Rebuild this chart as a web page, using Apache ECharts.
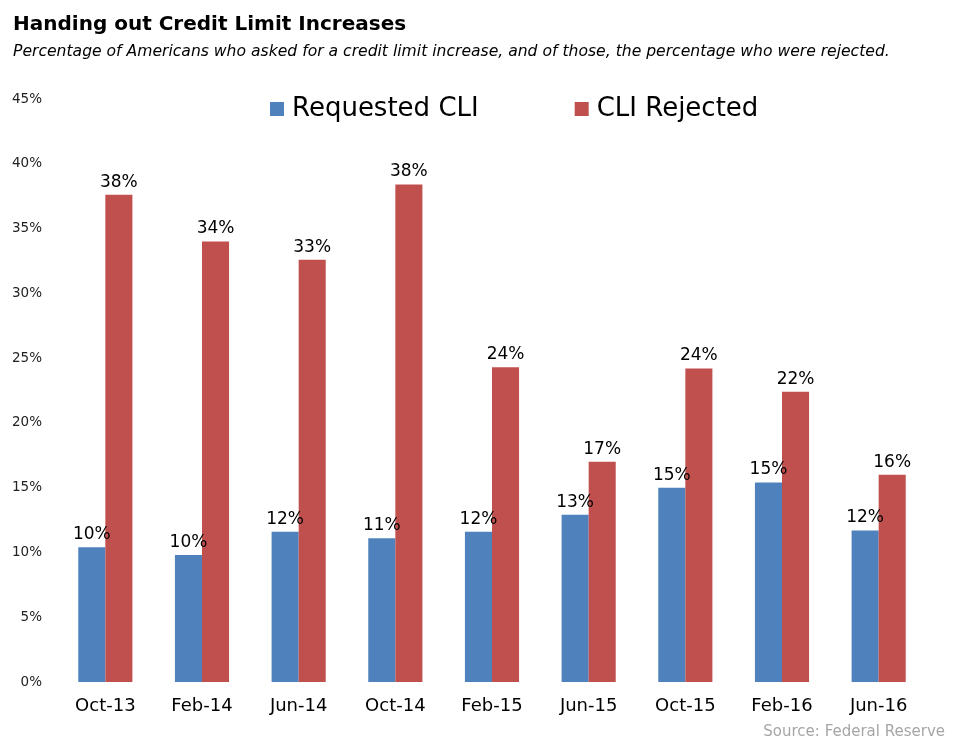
<!DOCTYPE html>
<html><head><meta charset="utf-8">
<script src="https://cdn.jsdelivr.net/npm/echarts@6/dist/echarts.min.js"></script>
<style>html,body{margin:0;padding:0;background:#fff}#c{width:967px;height:743px}</style>
</head><body><div id="c"></div>
<script>
const categories = ['Oct-13','Feb-14','Jun-14','Oct-14','Feb-15','Jun-15','Oct-15','Feb-16','Jun-16'];
const requestedCLI = [10.4, 9.8, 11.6, 11.1, 11.6, 12.9, 15.0, 15.4, 11.7];
const cliRejected = [37.6, 34.0, 32.6, 38.4, 24.3, 17.0, 24.2, 22.4, 16.0];
const yTicks = [0,5,10,15,20,25,30,35,40,45];
const FONT = 'DejaVu Sans';
const chart = echarts.init(document.getElementById('c'));
chart.setOption({
  animation:false,
  title:[
    {text:'Handing out Credit Limit Increases', left:8, top:10, textStyle:{fontFamily:FONT, fontWeight:'bold', fontSize:20, color:'#000'}},
    {text:'Percentage of Americans who asked for a credit limit increase, and of those, the percentage who were rejected.', left:8, top:39, textStyle:{fontFamily:FONT, fontStyle:'italic', fontWeight:'normal', fontSize:15.6, color:'#000'}},
    {text:'Source: Federal Reserve', right:17, top:720, textStyle:{fontFamily:FONT, fontWeight:'normal', fontSize:15, color:'#a6a6a6'}}
  ],
  legend:{top:91, left:265, itemWidth:14, itemHeight:14, itemGap:96, icon:'rect',
    textStyle:{fontFamily:FONT, fontSize:26, color:'#000', padding:[0,0,0,3]}},
  grid:{left:57, right:40, top:99, bottom:61},
  xAxis:{type:'category', data:categories, axisLine:{show:false}, axisTick:{show:false},
    axisLabel:{fontFamily:FONT, fontSize:18, color:'#000', margin:15}},
  yAxis:{type:'value', min:0, max:45, interval:5, splitLine:{show:false}, axisLine:{show:false}, axisTick:{show:false},
    axisLabel:{fontFamily:FONT, fontSize:13.5, color:'#222', margin:15, formatter:v=>yTicks.includes(v)?v+'%':''}},
  series:[
    {name:'Requested CLI', type:'bar', data:requestedCLI, barGap:'0%', barCategoryGap:'44%', itemStyle:{color:'#4f81bd'},
      label:{show:true, position:'top', distance:4, fontFamily:FONT, fontSize:17, color:'#000', formatter:p=>Math.round(p.value)+'%'}},
    {name:'CLI Rejected', type:'bar', data:cliRejected, itemStyle:{color:'#c0504d'},
      label:{show:true, position:'top', distance:4, fontFamily:FONT, fontSize:17, color:'#000', formatter:p=>Math.round(p.value)+'%'}}
  ]
});
</script></body></html>
